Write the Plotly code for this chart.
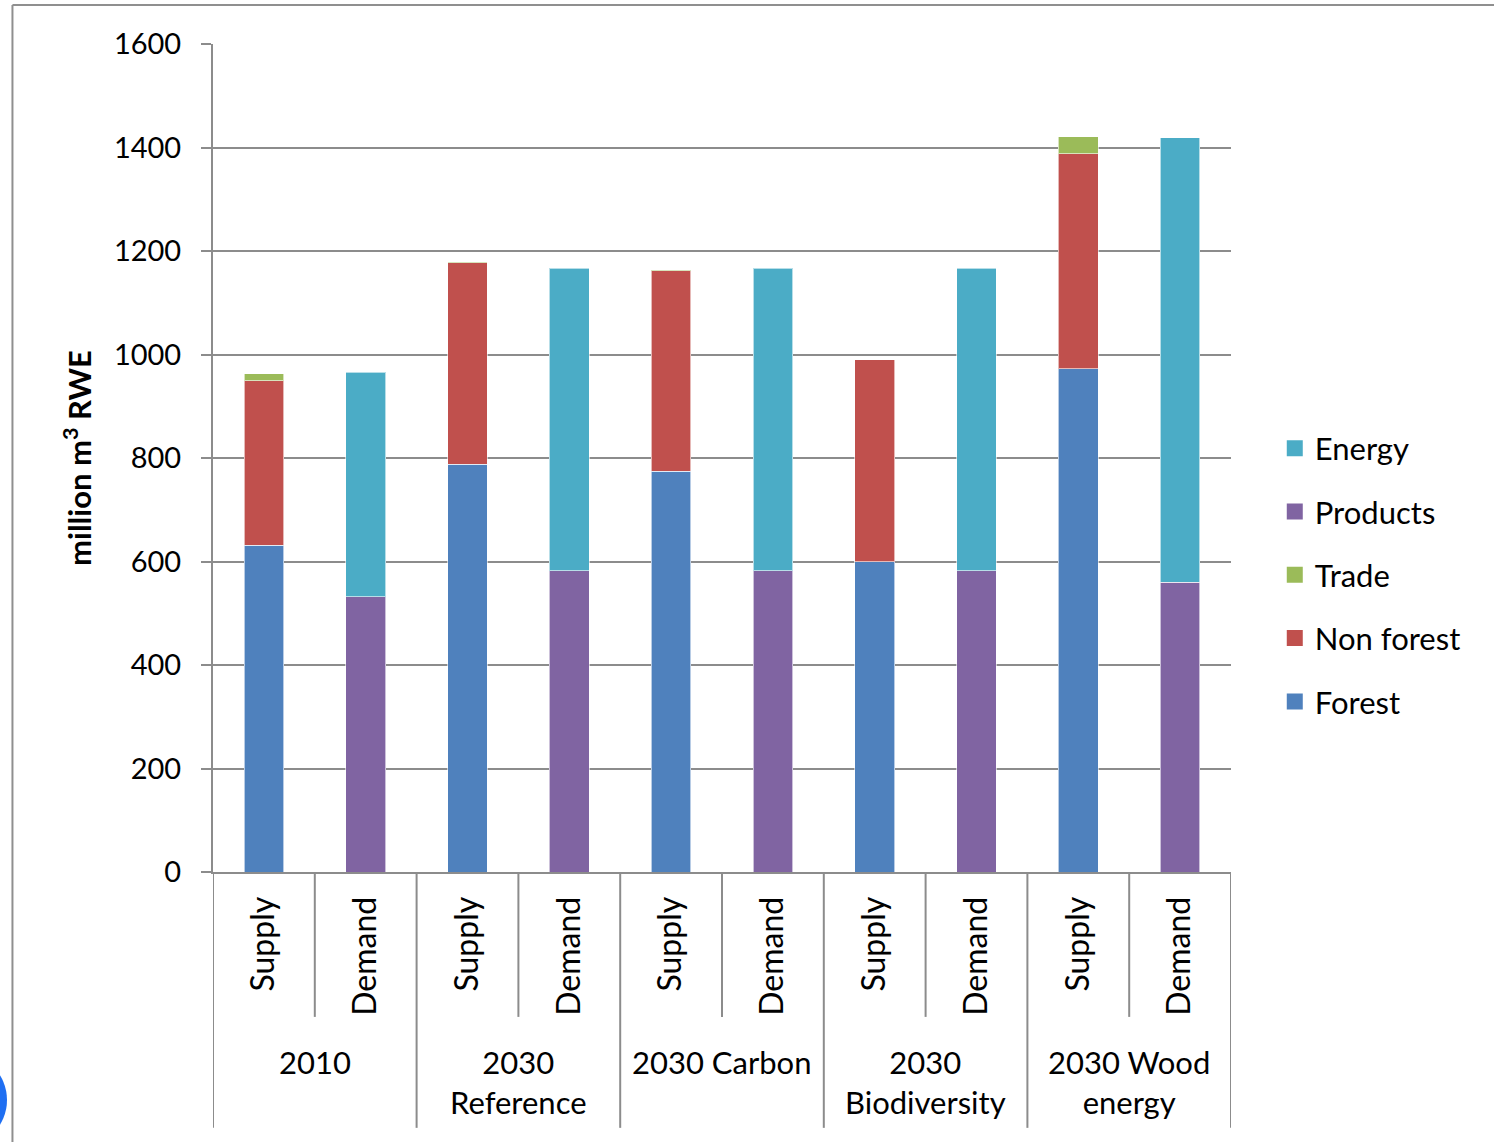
import plotly.graph_objects as go

# Scenario groups and the two bars drawn in each
scenarios = ["2010", "2030<br>Reference", "2030 Carbon", "2030<br>Biodiversity", "2030 Wood<br>energy"]
sides = ["Supply", "Demand"]

# Supply components (million m3 RWE), one value per scenario
forest = [631, 788, 774, 600, 972]
non_forest = [318, 389, 388, 390, 416]
trade = [14, 2, 2, 0, 33]

# Demand components (million m3 RWE), one value per scenario
products = [532, 582, 582, 582, 560]
energy = [434, 585, 585, 585, 859]

n_groups = len(scenarios)
n_bars = n_groups * len(sides)
xpos = list(range(n_bars))
tick_text = [s for _ in scenarios for s in sides]


def on_supply(vals):
    out = []
    for v in vals:
        out += [v, None]
    return out


def on_demand(vals):
    out = []
    for v in vals:
        out += [None, v]
    return out


FONT = "Lato, 'Open Sans', sans-serif"
GRID = "#8c8c8c"

series = [
    ("Forest", on_supply(forest), "#4F81BD"),
    ("Non forest", on_supply(non_forest), "#C0504D"),
    ("Trade", on_supply(trade), "#9BBB59"),
    ("Products", on_demand(products), "#8064A2"),
    ("Energy", on_demand(energy), "#4BACC6"),
]

fig = go.Figure()
for name, vals, color in series:
    fig.add_trace(go.Bar(
        x=xpos, y=vals, name=name, legendgroup=name, showlegend=False,
        marker=dict(color=color, line=dict(color="rgba(255,255,255,0.6)", width=1)),
    ))

# Legend entries with larger square swatches, listed top-down from Energy to Forest
for name, _, color in reversed(series):
    fig.add_trace(go.Scatter(
        x=[None], y=[None], mode="markers", name=name, legendgroup=name,
        marker=dict(symbol="square", size=19, color=color),
    ))

# Category dividers beneath the axis
shapes = []
inner_bottom = -0.175
outer_bottom = -0.309
for i in range(n_bars + 1):
    boundary = i - 0.5
    is_group_edge = (i % len(sides) == 0)
    shapes.append(dict(
        type="line", xref="x", yref="paper",
        x0=boundary, x1=boundary, y0=0, y1=outer_bottom if is_group_edge else inner_bottom,
        line=dict(color=GRID, width=2),
    ))

# Frame lines around the chart region
shapes.append(dict(type="line", xref="paper", yref="paper",
                   x0=-0.197, x1=1.3, y0=1.0471, y1=1.0471,
                   line=dict(color="#8f8f8f", width=2)))
shapes.append(dict(type="line", xref="paper", yref="paper",
                   x0=-0.197, x1=-0.197, y0=1.0471, y1=-0.4,
                   line=dict(color="#8f8f8f", width=2)))
# Small blue round badge at the lower-left edge
shapes.append(dict(type="circle", xref="paper", yref="paper",
                   x0=(-87 - 213) / 1018, x1=(7 - 213) / 1018,
                   y0=(872 - 1147) / 828, y1=(872 - 1053) / 828,
                   fillcolor="#1f6ff2", line=dict(width=0)))

# Scenario labels under each pair of bars
annotations = []
for g, label in enumerate(scenarios):
    annotations.append(dict(
        x=g * len(sides) + (len(sides) - 1) / 2, xref="x",
        y=-0.2045, yref="paper", yanchor="top", xanchor="center",
        text=label, showarrow=False,
        font=dict(family=FONT, size=31, color="black"),
    ))

fig.update_layout(
    width=1494, height=1142,
    margin=dict(l=213, r=263, t=44, b=270),
    paper_bgcolor="white", plot_bgcolor="white",
    barmode="stack", bargap=0.61,
    font=dict(family=FONT, size=29, color="black"),
    shapes=shapes, annotations=annotations,
    legend=dict(
        x=1.043, y=0.544, xanchor="left", yanchor="top",
        traceorder="grouped", tracegroupgap=20,
        font=dict(family=FONT, size=31, color="black"),
        itemwidth=30,
    ),
)

fig.update_xaxes(
    range=[-0.5, n_bars - 0.5],
    tickmode="array", tickvals=xpos, ticktext=tick_text,
    tickangle=-90, ticks="", showgrid=False, zeroline=False,
    showline=True, linecolor=GRID, linewidth=2, ticklabelstandoff=10,
    tickfont=dict(family=FONT, size=32, color="black"),
)
fig.update_yaxes(
    range=[0, 1600], dtick=200,
    showgrid=True, gridcolor=GRID, gridwidth=2,
    zeroline=False, showline=True, linecolor=GRID, linewidth=2,
    ticks="outside", ticklen=10, tickcolor=GRID, tickwidth=2,
    ticklabelstandoff=14,
    tickfont=dict(family=FONT, size=29, color="black"),
    title=dict(text="<b>million m<sup>3</sup> RWE</b>", standoff=13,
               font=dict(family=FONT, size=31, color="black")),
)

fig.write_html("out.html")
